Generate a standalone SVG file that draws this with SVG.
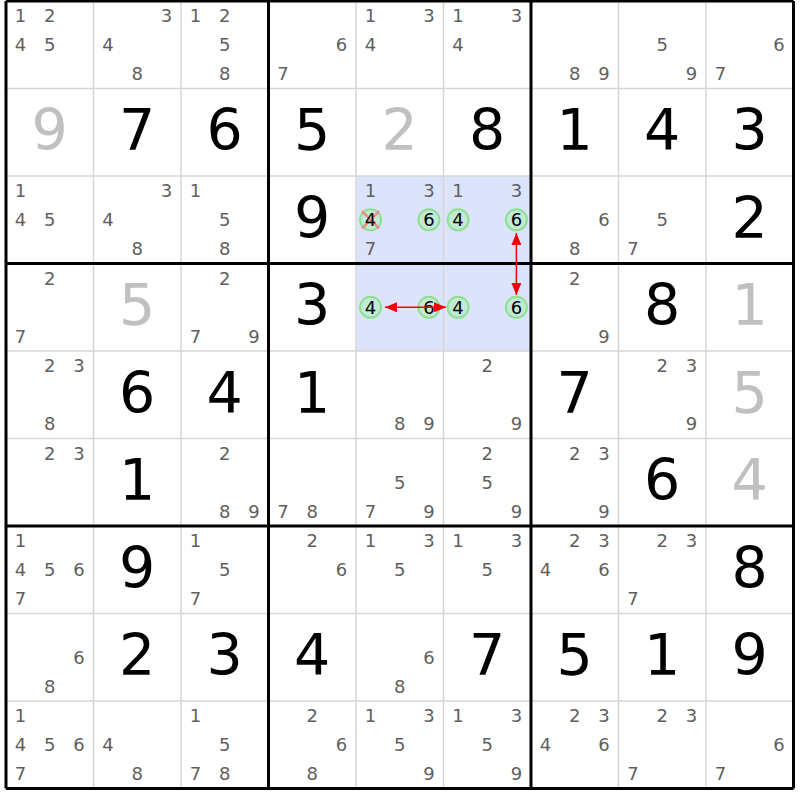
<svg xmlns="http://www.w3.org/2000/svg" width="800" height="800" viewBox="0 0 800 800">
<style>
text{font-family:"DejaVu Sans","Liberation Sans",sans-serif;text-anchor:middle}
.c{font-size:18px;fill:#5f5f5f}
.k{font-size:18px;fill:#000}
.g{font-size:57px;fill:#000}
.p{font-size:57px;fill:#c0c0c0}
.thin{stroke:#d6d6d6;stroke-width:1.5}
.thick{stroke:#000;stroke-width:3}
.ring{fill:#c2ead8;stroke:#8ee08e;stroke-width:2}
.arr{stroke:#f00000;stroke-width:1.5;fill:none;marker-start:url(#ah);marker-end:url(#ah)}
</style>
<defs>
<marker id="ah" markerUnits="userSpaceOnUse" markerWidth="12" markerHeight="10" refX="12" refY="5" orient="auto-start-reverse"><path d="M0,0 L12,5 L0,10 z" fill="#f00000"/></marker>
</defs>
<rect x="0" y="0" width="800" height="800" fill="#fff"/>
<rect x="356" y="176" width="175" height="175" fill="#dce4fb"/>
<g id="grid">
<path class="thin" d="M93.5,1V788.5M181,1V788.5M356,1V788.5M443.5,1V788.5M618.5,1V788.5M706,1V788.5M6,88.5H793.5M6,176H793.5M6,351H793.5M6,438.5H793.5M6,613.5H793.5M6,701H793.5"/>
<path class="thick" d="M6,1V788.5M268.5,1V788.5M531,1V788.5M793.5,1V788.5M6,1H793.5M6,263.5H793.5M6,526H793.5M6,788.5H793.5"/>
</g>
<g id="r0c0"><text class="c" x="20.6" y="22.1">1</text><text class="c" x="49.8" y="22.1">2</text><text class="c" x="20.6" y="51.3">4</text><text class="c" x="49.8" y="51.3">5</text></g>
<g id="r0c1"><text class="c" x="166.4" y="22.1">3</text><text class="c" x="108.1" y="51.3">4</text><text class="c" x="137.3" y="80.4">8</text></g>
<g id="r0c2"><text class="c" x="195.6" y="22.1">1</text><text class="c" x="224.8" y="22.1">2</text><text class="c" x="224.8" y="51.3">5</text><text class="c" x="224.8" y="80.4">8</text></g>
<g id="r0c3"><text class="c" x="341.4" y="51.3">6</text><text class="c" x="283.1" y="80.4">7</text></g>
<g id="r0c4"><text class="c" x="370.6" y="22.1">1</text><text class="c" x="428.9" y="22.1">3</text><text class="c" x="370.6" y="51.3">4</text></g>
<g id="r0c5"><text class="c" x="458.1" y="22.1">1</text><text class="c" x="516.4" y="22.1">3</text><text class="c" x="458.1" y="51.3">4</text></g>
<g id="r0c6"><text class="c" x="574.8" y="80.4">8</text><text class="c" x="603.9" y="80.4">9</text></g>
<g id="r0c7"><text class="c" x="662.3" y="51.3">5</text><text class="c" x="691.4" y="80.4">9</text></g>
<g id="r0c8"><text class="c" x="778.9" y="51.3">6</text><text class="c" x="720.6" y="80.4">7</text></g>
<g id="r1"><text class="p" x="49.75" y="150">9</text><text class="g" x="137.25" y="150">7</text><text class="g" x="224.75" y="150">6</text><text class="g" x="312.25" y="150">5</text><text class="p" x="399.75" y="150">2</text><text class="g" x="487.25" y="150">8</text><text class="g" x="574.75" y="150">1</text><text class="g" x="662.25" y="150">4</text><text class="g" x="749.75" y="150">3</text></g>
<g id="r2c0"><text class="c" x="20.6" y="197.1">1</text><text class="c" x="20.6" y="226.3">4</text><text class="c" x="49.8" y="226.3">5</text></g>
<g id="r2c1"><text class="c" x="166.4" y="197.1">3</text><text class="c" x="108.1" y="226.3">4</text><text class="c" x="137.3" y="255.4">8</text></g>
<g id="r2c2"><text class="c" x="195.6" y="197.1">1</text><text class="c" x="224.8" y="226.3">5</text><text class="c" x="224.8" y="255.4">8</text></g>
<g id="r2c3"><text class="g" x="312.25" y="237.5">9</text></g>
<g id="r2c4"><text class="c" x="370.6" y="197.1">1</text><text class="c" x="428.9" y="197.1">3</text><circle class="ring" cx="370.6" cy="219.8" r="10.5"/><path d="M362,211.2L379.2,228.4M362,228.4L379.2,211.2" stroke="#f08a8a" stroke-width="2.5"/><text class="k" x="370.6" y="226.3">4</text><circle class="ring" cx="428.9" cy="219.8" r="10.5"/><text class="k" x="428.9" y="226.3">6</text><text class="c" x="370.6" y="255.4">7</text></g>
<g id="r2c5"><text class="c" x="458.1" y="197.1">1</text><text class="c" x="516.4" y="197.1">3</text><circle class="ring" cx="458.1" cy="219.8" r="10.5"/><text class="k" x="458.1" y="226.3">4</text><circle class="ring" cx="516.4" cy="219.8" r="10.5"/><text class="k" x="516.4" y="226.3">6</text></g>
<g id="r2c6"><text class="c" x="603.9" y="226.3">6</text><text class="c" x="574.8" y="255.4">8</text></g>
<g id="r2c7"><text class="c" x="662.3" y="226.3">5</text><text class="c" x="633.1" y="255.4">7</text></g>
<g id="r2c8"><text class="g" x="749.75" y="237.5">2</text></g>
<g id="r3c0"><text class="c" x="49.8" y="284.6">2</text><text class="c" x="20.6" y="342.9">7</text></g>
<g id="r3c1"><text class="p" x="137.25" y="325">5</text></g>
<g id="r3c2"><text class="c" x="224.8" y="284.6">2</text><text class="c" x="195.6" y="342.9">7</text><text class="c" x="253.9" y="342.9">9</text></g>
<g id="r3c3"><text class="g" x="312.25" y="325">3</text></g>
<g id="r3c4"><circle class="ring" cx="370.6" cy="307.3" r="10.5"/><text class="k" x="370.6" y="313.8">4</text><circle class="ring" cx="428.9" cy="307.3" r="10.5"/><text class="k" x="428.9" y="313.8">6</text></g>
<g id="r3c5"><circle class="ring" cx="458.1" cy="307.3" r="10.5"/><text class="k" x="458.1" y="313.8">4</text><circle class="ring" cx="516.4" cy="307.3" r="10.5"/><text class="k" x="516.4" y="313.8">6</text></g>
<g id="r3c6"><text class="c" x="574.8" y="284.6">2</text><text class="c" x="603.9" y="342.9">9</text></g>
<g id="r3c7"><text class="g" x="662.25" y="325">8</text></g>
<g id="r3c8"><text class="p" x="749.75" y="325">1</text></g>
<g id="r4c0"><text class="c" x="49.8" y="372.1">2</text><text class="c" x="78.9" y="372.1">3</text><text class="c" x="49.8" y="430.4">8</text></g>
<g id="r4c1"><text class="g" x="137.25" y="412.5">6</text></g>
<g id="r4c2"><text class="g" x="224.75" y="412.5">4</text></g>
<g id="r4c3"><text class="g" x="312.25" y="412.5">1</text></g>
<g id="r4c4"><text class="c" x="399.8" y="430.4">8</text><text class="c" x="428.9" y="430.4">9</text></g>
<g id="r4c5"><text class="c" x="487.3" y="372.1">2</text><text class="c" x="516.4" y="430.4">9</text></g>
<g id="r4c6"><text class="g" x="574.75" y="412.5">7</text></g>
<g id="r4c7"><text class="c" x="662.3" y="372.1">2</text><text class="c" x="691.4" y="372.1">3</text><text class="c" x="691.4" y="430.4">9</text></g>
<g id="r4c8"><text class="p" x="749.75" y="412.5">5</text></g>
<g id="r5c0"><text class="c" x="49.8" y="459.6">2</text><text class="c" x="78.9" y="459.6">3</text></g>
<g id="r5c1"><text class="g" x="137.25" y="500">1</text></g>
<g id="r5c2"><text class="c" x="224.8" y="459.6">2</text><text class="c" x="224.8" y="517.9">8</text><text class="c" x="253.9" y="517.9">9</text></g>
<g id="r5c3"><text class="c" x="283.1" y="517.9">7</text><text class="c" x="312.3" y="517.9">8</text></g>
<g id="r5c4"><text class="c" x="399.8" y="488.8">5</text><text class="c" x="370.6" y="517.9">7</text><text class="c" x="428.9" y="517.9">9</text></g>
<g id="r5c5"><text class="c" x="487.3" y="459.6">2</text><text class="c" x="487.3" y="488.8">5</text><text class="c" x="516.4" y="517.9">9</text></g>
<g id="r5c6"><text class="c" x="574.8" y="459.6">2</text><text class="c" x="603.9" y="459.6">3</text><text class="c" x="603.9" y="517.9">9</text></g>
<g id="r5c7"><text class="g" x="662.25" y="500">6</text></g>
<g id="r5c8"><text class="p" x="749.75" y="500">4</text></g>
<g id="r6c0"><text class="c" x="20.6" y="547.1">1</text><text class="c" x="20.6" y="576.3">4</text><text class="c" x="49.8" y="576.3">5</text><text class="c" x="78.9" y="576.3">6</text><text class="c" x="20.6" y="605.4">7</text></g>
<g id="r6c1"><text class="g" x="137.25" y="587.5">9</text></g>
<g id="r6c2"><text class="c" x="195.6" y="547.1">1</text><text class="c" x="224.8" y="576.3">5</text><text class="c" x="195.6" y="605.4">7</text></g>
<g id="r6c3"><text class="c" x="312.3" y="547.1">2</text><text class="c" x="341.4" y="576.3">6</text></g>
<g id="r6c4"><text class="c" x="370.6" y="547.1">1</text><text class="c" x="428.9" y="547.1">3</text><text class="c" x="399.8" y="576.3">5</text></g>
<g id="r6c5"><text class="c" x="458.1" y="547.1">1</text><text class="c" x="516.4" y="547.1">3</text><text class="c" x="487.3" y="576.3">5</text></g>
<g id="r6c6"><text class="c" x="574.8" y="547.1">2</text><text class="c" x="603.9" y="547.1">3</text><text class="c" x="545.6" y="576.3">4</text><text class="c" x="603.9" y="576.3">6</text></g>
<g id="r6c7"><text class="c" x="662.3" y="547.1">2</text><text class="c" x="691.4" y="547.1">3</text><text class="c" x="633.1" y="605.4">7</text></g>
<g id="r6c8"><text class="g" x="749.75" y="587.5">8</text></g>
<g id="r7c0"><text class="c" x="78.9" y="663.8">6</text><text class="c" x="49.8" y="692.9">8</text></g>
<g id="r7c1"><text class="g" x="137.25" y="675">2</text></g>
<g id="r7c2"><text class="g" x="224.75" y="675">3</text></g>
<g id="r7c3"><text class="g" x="312.25" y="675">4</text></g>
<g id="r7c4"><text class="c" x="428.9" y="663.8">6</text><text class="c" x="399.8" y="692.9">8</text></g>
<g id="r7c5"><text class="g" x="487.25" y="675">7</text></g>
<g id="r7c6"><text class="g" x="574.75" y="675">5</text></g>
<g id="r7c7"><text class="g" x="662.25" y="675">1</text></g>
<g id="r7c8"><text class="g" x="749.75" y="675">9</text></g>
<g id="r8c0"><text class="c" x="20.6" y="722.1">1</text><text class="c" x="20.6" y="751.3">4</text><text class="c" x="49.8" y="751.3">5</text><text class="c" x="78.9" y="751.3">6</text><text class="c" x="20.6" y="780.4">7</text></g>
<g id="r8c1"><text class="c" x="108.1" y="751.3">4</text><text class="c" x="137.3" y="780.4">8</text></g>
<g id="r8c2"><text class="c" x="195.6" y="722.1">1</text><text class="c" x="224.8" y="751.3">5</text><text class="c" x="195.6" y="780.4">7</text><text class="c" x="224.8" y="780.4">8</text></g>
<g id="r8c3"><text class="c" x="312.3" y="722.1">2</text><text class="c" x="341.4" y="751.3">6</text><text class="c" x="312.3" y="780.4">8</text></g>
<g id="r8c4"><text class="c" x="370.6" y="722.1">1</text><text class="c" x="428.9" y="722.1">3</text><text class="c" x="399.8" y="751.3">5</text><text class="c" x="428.9" y="780.4">9</text></g>
<g id="r8c5"><text class="c" x="458.1" y="722.1">1</text><text class="c" x="516.4" y="722.1">3</text><text class="c" x="487.3" y="751.3">5</text><text class="c" x="516.4" y="780.4">9</text></g>
<g id="r8c6"><text class="c" x="574.8" y="722.1">2</text><text class="c" x="603.9" y="722.1">3</text><text class="c" x="545.6" y="751.3">4</text><text class="c" x="603.9" y="751.3">6</text></g>
<g id="r8c7"><text class="c" x="662.3" y="722.1">2</text><text class="c" x="691.4" y="722.1">3</text><text class="c" x="633.1" y="780.4">7</text></g>
<g id="r8c8"><text class="c" x="778.9" y="751.3">6</text><text class="c" x="720.6" y="780.4">7</text></g>
<g id="connectors">
<line class="arr" x1="385" y1="307.3" x2="446" y2="307.3"/>
<line class="arr" x1="516.4" y1="233" x2="516.4" y2="295"/>
</g>
</svg>
